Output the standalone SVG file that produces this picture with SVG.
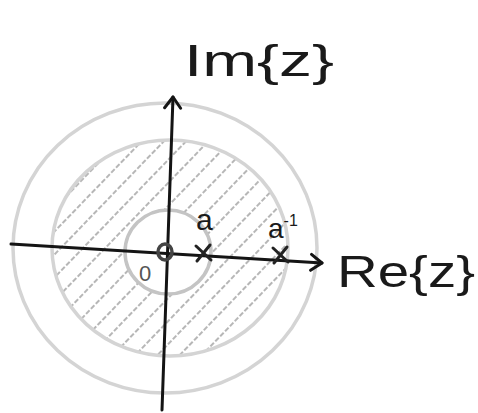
<svg xmlns="http://www.w3.org/2000/svg" width="478" height="413" viewBox="0 0 478 413">
<style>
.ring{fill:none;stroke:#d4d4d4;stroke-width:3.5}
.axis{fill:none;stroke:#141414;stroke-width:3;stroke-linecap:round}
.mark{fill:none;stroke:#222;stroke-width:3;stroke-linecap:round}
.lbl{font-family:"Liberation Sans",Arial,sans-serif;fill:#1a1a1a}
</style>
<defs>
<pattern id="hatch" patternUnits="userSpaceOnUse" width="16" height="14" patternTransform="rotate(44)">
<line x1="8" y1="0" x2="8" y2="14" stroke="#909090" stroke-width="1.3" stroke-dasharray="5 2"/>
</pattern>
<marker id="arr" markerWidth="16" markerHeight="20" refX="13" refY="10" orient="auto" markerUnits="userSpaceOnUse">
<path d="M2,2 L13,10 L2,18" fill="none" stroke="#141414" stroke-width="3" stroke-linecap="round" stroke-linejoin="round"/>
</marker>
</defs>
<g id="outer-circle"><ellipse class="ring" cx="165" cy="248" rx="152" ry="145"/></g>
<g id="annulus">
<path d="M52,248 A118,108 0 1,0 288,248 A118,108 0 1,0 52,248 Z M125,252 A43,42 0 1,1 211,252 A43,42 0 1,1 125,252 Z" fill="url(#hatch)" fill-rule="evenodd"/>
<ellipse class="ring" cx="170" cy="248" rx="118" ry="108"/>
</g>
<g id="inner-circle"><ellipse cx="168" cy="252" rx="43" ry="42" fill="none" stroke="#c4c4c4" stroke-width="3.5"/></g>
<g id="connectors">
<line class="axis" x1="162" y1="410" x2="173" y2="97" marker-end="url(#arr)"/>
<line class="axis" x1="11" y1="244" x2="322" y2="263" marker-end="url(#arr)"/>
</g>
<g id="origin-zero"><ellipse cx="165" cy="252" rx="7" ry="8" fill="none" stroke="#444" stroke-width="3.5"/></g>
<g id="pole-a">
<path class="mark" d="M196,246 L211,260 M210,245 L197,261"/>
<text class="lbl" x="196" y="230" font-size="30">a</text>
</g>
<g id="pole-a-inv">
<path class="mark" d="M273,248 L288,262 M287,247 L274,263"/>
<text class="lbl" x="268" y="238" font-size="28">a<tspan font-size="16" dy="-12">-1</tspan></text>
</g>
<g id="origin-label"><text class="lbl" x="139" y="281" font-size="22" style="fill:#555">0</text></g>
<g id="im-label"><text class="lbl" x="184" y="76" font-size="44" textLength="150" lengthAdjust="spacingAndGlyphs">Im{z}</text></g>
<g id="re-label"><text class="lbl" x="337" y="287" font-size="44" textLength="138" lengthAdjust="spacingAndGlyphs">Re{z}</text></g>
</svg>
